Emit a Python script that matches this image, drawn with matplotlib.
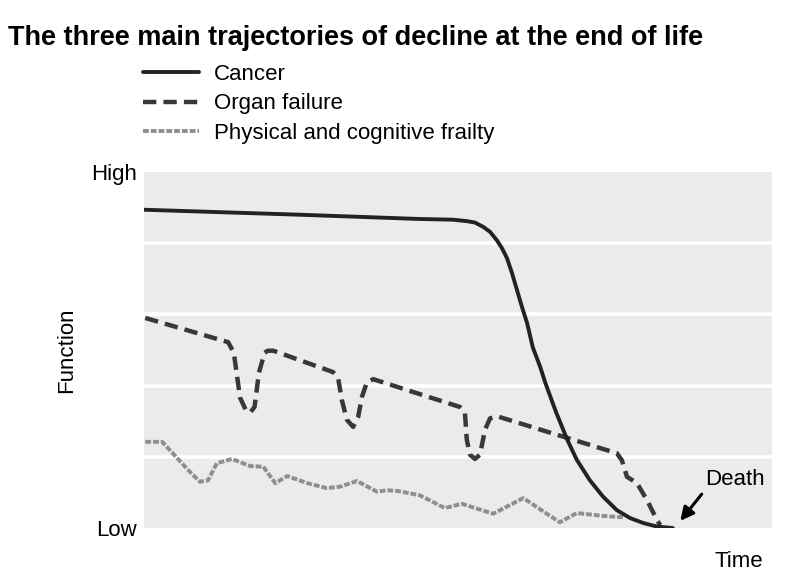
import matplotlib
matplotlib.use("Agg")
import matplotlib.pyplot as plt

# axis units: time 0..100, function 0 (Low) .. 5 (High)
cancer_t = [0, 24.8, 43.9, 49.2, 51.4, 52.7, 54.0, 55.1, 56.2, 57.0, 57.8, 58.6, 59.4, 60.2,
            61.0, 61.9, 63.1, 63.9, 65.6, 67.4, 68.9, 71.0, 73.1, 75.3, 77.4, 79.5, 81.7, 84.2]
cancer_f = [4.47, 4.40, 4.34, 4.33, 4.31, 4.29, 4.23, 4.16, 4.04, 3.93, 3.79, 3.58, 3.34, 3.10,
            2.88, 2.54, 2.26, 2.04, 1.63, 1.24, 0.96, 0.67, 0.44, 0.25, 0.14, 0.07, 0.02, 0.0]

organ_t = [0.2, 13.4, 14.3, 15.3, 16.2, 16.9, 17.6, 18.3, 19.2, 19.7, 20.6,
           30.1, 30.9, 31.5, 32.3, 33.3, 34.1, 34.7, 35.5, 36.5,
           50.3, 51.1, 51.4, 51.9, 52.7, 53.5, 54.3, 55.1, 56.2,
           75.3, 76.1, 76.9, 78.5, 80.1, 81.7, 82.2]
organ_f = [2.95, 2.61, 2.46, 1.83, 1.66, 1.62, 1.70, 2.18, 2.46, 2.49, 2.49,
           2.19, 2.11, 1.80, 1.52, 1.42, 1.56, 1.84, 2.05, 2.09,
           1.70, 1.62, 1.24, 1.03, 0.97, 1.03, 1.38, 1.54, 1.57,
           1.05, 0.95, 0.72, 0.63, 0.39, 0.11, 0.04]

frailty_t = [0.2, 2.9, 5.3, 7.3, 8.9, 10.2, 11.6, 14.0, 16.9, 19.0, 20.9, 22.8, 26.0, 29.1,
             31.2, 33.9, 37.1, 38.7, 40.4, 43.9, 47.9, 50.6, 55.6, 60.4, 66.2, 68.9, 73.1, 76.3]
frailty_f = [1.21, 1.21, 0.98, 0.79, 0.65, 0.67, 0.91, 0.97, 0.87, 0.86, 0.63, 0.73, 0.63, 0.56,
             0.58, 0.66, 0.51, 0.53, 0.52, 0.46, 0.28, 0.34, 0.20, 0.42, 0.08, 0.21, 0.17, 0.15]

series_names = ["Cancer", "Organ failure", "Physical and cognitive frailty"]
y_tick_labels = ["Low", "High"]

plt.rcParams["font.family"] = ["Liberation Sans", "DejaVu Sans"]

fig = plt.figure(figsize=(7.99, 5.81), dpi=100)
ax = fig.add_axes([144 / 799, 1 - 528 / 581, 628 / 799, 356 / 581])
ax.set_facecolor("#ebebeb")

# white bands
for level in [1, 2, 3, 4]:
    ax.axhline(level, color="white", lw=2.6, zorder=1)

l1, = ax.plot(frailty_t, frailty_f, color="#8e8e8e", lw=2.8,
              linestyle=(0, (1.5, 0.5)), zorder=2)
l2, = ax.plot(organ_t, organ_f, color="#383838", lw=3.2,
              linestyle=(0, (3.0, 1.6)), zorder=3)
l3, = ax.plot(cancer_t, cancer_f, color="#222222", lw=2.8, zorder=4,
              solid_joinstyle="round", solid_capstyle="round")

ax.set_xlim(0, 100)
ax.set_ylim(0, 5)
for s in ax.spines.values():
    s.set_visible(False)
ax.set_xticks([])
ax.set_yticks([0, 5], y_tick_labels)
ax.tick_params(axis="y", length=0, pad=5, labelsize=16)
ax.set_ylabel("Function", fontsize=16, labelpad=10)
ax.text(0.9857, -0.095, "Time", transform=ax.transAxes, fontsize=16,
        ha="right", va="center")

ax.annotate("Death", xy=(85.4, 0.1), xytext=(89.3, 0.60), fontsize=16,
            ha="left", va="baseline",
            arrowprops=dict(arrowstyle="-|>", color="black", lw=2.2,
                            mutation_scale=20, relpos=(0.0, 0.0),
                            shrinkA=1, shrinkB=0))

leg = ax.legend([l3, l2, l1], series_names, loc="upper left",
                bbox_to_anchor=(143 / 799, 1 - 64 / 581), bbox_transform=fig.transFigure,
                frameon=False, prop={"size": 16},
                handlelength=2.5, handletextpad=0.68, labelspacing=0.38,
                borderaxespad=0, borderpad=0)

fig.text(8 / 799, 1 - 38 / 581, "The three main trajectories of decline at the end of life",
         fontsize=19.5, fontweight="bold", ha="left", va="center")

fig.savefig("out.png", dpi=100)
